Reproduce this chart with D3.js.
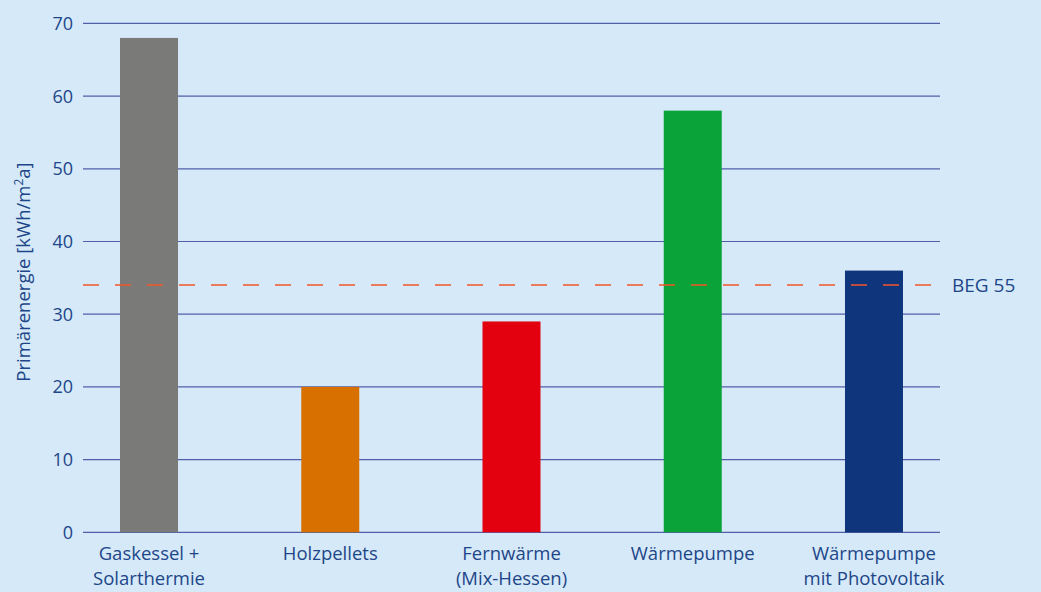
<!DOCTYPE html>
<meta charset="utf-8">
<script src="https://cdn.jsdelivr.net/npm/d3@7"></script>
<style>
body { margin: 0; background: #d5e9f9; }
text { font-family: "Open Sans", sans-serif; fill: #1d4688; }
</style>
<body>
<script>

var categories = [["Gaskessel +", "Solarthermie"], ["Holzpellets"], ["Fernwärme", "(Mix-Hessen)"], ["Wärmepumpe"], ["Wärmepumpe", "mit Photovoltaik"]];
var values = [68, 20, 29, 58, 36];
var colors = ["#7a7a78", "#d87000", "#e3000f", "#09a33a", "#0f357d"];
var yTicks = [0, 10, 20, 30, 40, 50, 60, 70];
var begValue = 34;
var begLabel = "BEG 55";

var width = 1041, height = 592;

var svg = d3.select("body").append("svg")
    .attr("width", width)
    .attr("height", height);

var y = d3.scaleLinear().domain([0, 70]).range([532.3, 23.4]);

var x = d3.scaleBand()
    .domain(d3.range(categories.length))
    .range([58.4, 964.6])
    .paddingInner(0.68)
    .paddingOuter(0.34);

// gridlines
svg.append("g")
  .selectAll("line")
  .data(yTicks)
  .enter().append("line")
    .attr("x1", 83).attr("x2", 940)
    .attr("y1", function(d) { return y(d); })
    .attr("y2", function(d) { return y(d); })
    .style("stroke", "#4f5fa8")
    .style("stroke-width", 1.2);

// tick labels
svg.append("g")
  .selectAll("text")
  .data(yTicks)
  .enter().append("text")
    .attr("x", 73)
    .attr("y", function(d) { return y(d); })
    .attr("dy", "0.36em")
    .attr("text-anchor", "end")
    .style("font-size", "18px")
    .text(function(d) { return d; });

// bars
svg.append("g")
  .selectAll("rect")
  .data(values)
  .enter().append("rect")
    .attr("x", function(d, i) { return x(i); })
    .attr("width", x.bandwidth())
    .attr("y", function(d) { return y(d); })
    .attr("height", function(d) { return y(0) - y(d); })
    .style("fill", function(d, i) { return colors[i]; });

// category labels (second line kept just inside the bottom edge)
var lab = svg.append("g")
  .selectAll("text")
  .data(categories)
  .enter().append("text")
    .attr("text-anchor", "middle")
    .style("font-size", "18.5px")
    .attr("transform", function(d, i) { return "translate(" + (x(i) + x.bandwidth() / 2) + ",0)"; });

lab.selectAll("tspan")
  .data(function(d) { return d; })
  .enter().append("tspan")
    .attr("x", 0)
    .attr("y", function(d, j) { return 560 + j * 25; })
    .text(function(d) { return d; });

// BEG 55 reference line
svg.append("line")
    .attr("x1", 83).attr("x2", 940)
    .attr("y1", y(begValue)).attr("y2", y(begValue))
    .style("stroke", "#f4552a")
    .style("stroke-width", 1.5)
    .style("stroke-dasharray", "16,16");

svg.append("text")
    .attr("x", 952)
    .attr("y", y(begValue))
    .attr("dy", "0.36em")
    .style("font-size", "19px")
    .text(begLabel);

// y axis title
var yt = svg.append("text")
    .attr("transform", "translate(30,272) rotate(-90)")
    .attr("text-anchor", "middle")
    .style("font-size", "18.5px");
yt.append("tspan").text("Primärenergie [kWh/m");
yt.append("tspan").attr("dy", -7).style("font-size", "12px").text("2");
yt.append("tspan").attr("dy", 7).text("a]");

</script>
</body>
